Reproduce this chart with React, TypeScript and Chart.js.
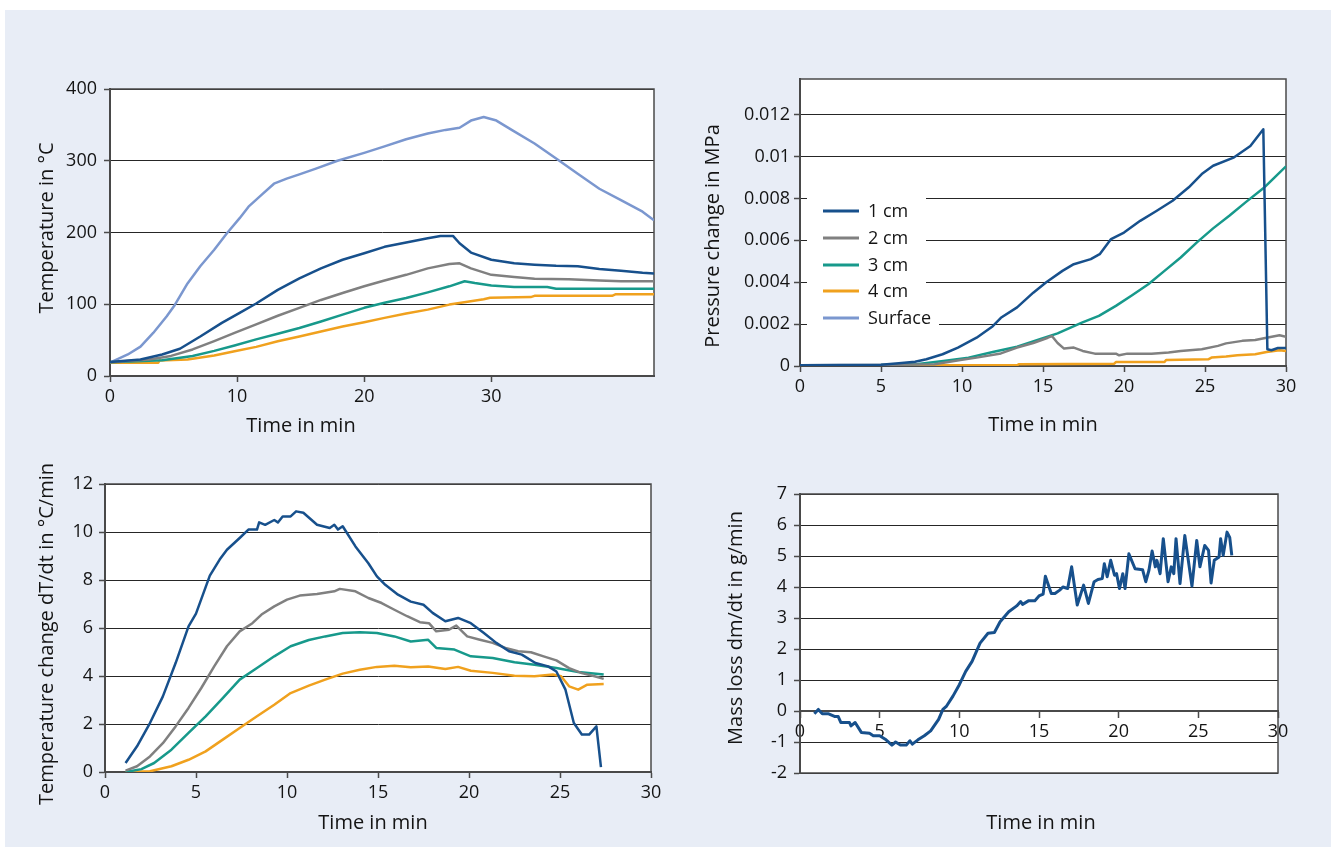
import React, { useEffect, useRef } from "react";
import { Chart, registerables } from "chart.js";

Chart.register(...registerables);

const PAGE_W = 1331;
const PAGE_H = 847;
const FONT = '"Open Sans", "Noto Sans", "DejaVu Sans", sans-serif';
const BG = "#e8edf6";
const TEXT = "#141414";
const AXIS = "#4a4a4a";
const GRID = "#262626";

const C_1CM = "#17508c";
const C_2CM = "#808080";
const C_3CM = "#17998b";
const C_4CM = "#f0a11e";
const C_SURF = "#7b97cf";

// ---------- Panel 1: Temperature in °C ----------
const T_SURF_X = [0, 1.4, 2.4, 3.4, 4.45, 5.1, 6.1, 7.1, 8.2, 9.2, 10.2, 10.9, 11.9, 12.9, 13.9, 14.9, 16.2, 17.9, 20, 21.6, 23.3, 25, 26.4, 27.5, 28.4, 29.4, 30.4, 31.7, 33.4, 35.1, 36.8, 38.5, 40.2, 41.9, 42.8];
const T_SURF_Y = [18.5, 30, 41, 60, 83, 99, 129, 153, 176, 199, 220, 236, 252, 268, 275, 281, 289, 300, 311, 320, 330, 338, 343, 346, 356, 361, 356, 342, 324, 303, 282, 261, 245, 229, 217];
const T_1CM_X = [0, 2.4, 4.1, 5.5, 7.1, 8.8, 10.2, 11.5, 13.2, 14.9, 16.6, 18.3, 20, 21.6, 23.3, 25, 26, 27, 27.5, 28.4, 30, 31.8, 33.4, 35.1, 36.8, 38.5, 40.2, 41.9, 42.8];
const T_1CM_Y = [19.4, 23, 30, 38, 55, 74, 88, 101, 120, 136, 150, 162, 171, 180, 186, 192, 195, 195, 185, 172, 162, 157, 155, 153.5, 153, 149, 146.6, 144, 143];
const T_2CM_X = [0, 3.1, 4.8, 6.5, 8.2, 9.8, 11.5, 13.2, 14.9, 16.6, 18.3, 20, 21.6, 23.3, 25, 26.7, 27.5, 28.4, 30, 31.8, 33.4, 36.1, 38.5, 40.2, 42.8];
const T_2CM_Y = [19, 23, 28, 37, 48.5, 60, 72, 84, 95, 106, 115.6, 125, 133, 141, 150, 156, 157, 150, 141, 138, 135.5, 135, 133, 132, 132];
const T_3CM_X = [0, 4.1, 6.5, 8.2, 9.8, 11.5, 13.2, 14.9, 16.6, 18.3, 20, 21.6, 23.3, 25, 26.7, 27.9, 28.7, 30, 31.8, 34.4, 35.1, 42.8];
const T_3CM_Y = [19, 22, 28, 35, 42.5, 51, 59, 67, 76, 85.5, 95, 102, 108.7, 116.5, 125, 132, 129.5, 126, 124, 124, 121.6, 121.6];
const T_4CM_X = [0, 3.8, 3.9, 6.1, 8.2, 9.8, 11.5, 13.2, 14.9, 16.6, 18.3, 20, 21.6, 23.3, 25, 26.7, 28, 29.4, 29.9, 33.1, 33.4, 39.5, 39.8, 42.8];
const T_4CM_Y = [18.5, 18.5, 21.6, 23, 28.5, 34.5, 40.6, 48.5, 55, 62, 69, 75, 81, 87, 92.5, 99.5, 103, 107, 109, 110, 111.7, 111.7, 114, 114];
const T_X_TICKS = [0, 10, 20, 30];
const T_Y_TICKS = [0, 100, 200, 300, 400];

// ---------- Panel 2: Pressure change in MPa ----------
const P_1CM_X = [0, 5, 6.1, 7.1, 7.8, 8.8, 9.75, 10.9, 11.9, 12.4, 13.4, 14.4, 15.2, 16.2, 16.9, 17.95, 18.5, 19.2, 20, 21, 22, 23, 24, 24.8, 25.5, 26.8, 27.8, 28.6, 28.85, 29.1, 29.5, 30];
const P_1CM_Y = [0.00004, 0.00006, 0.00013, 0.0002, 0.00032, 0.00056, 0.00088, 0.00135, 0.0019, 0.0023, 0.0028, 0.0035, 0.004, 0.00454, 0.00486, 0.0051, 0.00534, 0.00606, 0.00637, 0.00693, 0.0074, 0.00789, 0.00853, 0.00916, 0.00956, 0.00996, 0.0105, 0.0113, 0.0008, 0.00075, 0.00086, 0.00086];
const P_2CM_X = [0, 5, 8.3, 9.9, 10.9, 12.4, 13.4, 14.4, 15.3, 15.55, 15.9, 16.3, 16.9, 17.45, 18.2, 19.5, 19.7, 20.2, 21.7, 22.75, 23.5, 24.8, 25.8, 26.3, 27.3, 28.1, 28.8, 29.6, 30];
const P_2CM_Y = [0.00004, 0.00005, 0.00008, 0.00029, 0.0004, 0.0006, 0.00088, 0.0011, 0.00135, 0.00143, 0.0011, 0.00083, 0.00088, 0.00072, 0.00059, 0.00059, 0.00051, 0.00059, 0.00059, 0.00064, 0.00072, 0.0008, 0.00096, 0.00108, 0.0012, 0.00124, 0.00135, 0.00147, 0.00139];
const P_3CM_X = [0, 5, 7.3, 8.85, 10.4, 11.9, 13.4, 14.9, 15.9, 17.4, 18.45, 19.5, 20.5, 21.5, 22.5, 23.5, 24.5, 25.5, 26.5, 27.5, 28.6, 29.3, 30];
const P_3CM_Y = [0.00004, 0.00005, 0.0001, 0.00024, 0.0004, 0.00067, 0.00092, 0.0013, 0.00156, 0.00207, 0.00239, 0.00287, 0.00338, 0.0039, 0.00454, 0.00518, 0.0059, 0.00657, 0.00717, 0.00781, 0.00848, 0.009, 0.00953];
const P_4CM_X = [0, 13.4, 13.5, 19.4, 19.5, 22.5, 22.6, 25.2, 25.4, 26.3, 27, 28.1, 28.8, 29.6, 30];
const P_4CM_Y = [0.00003, 0.00003, 0.00008, 0.00011, 0.00019, 0.00019, 0.00029, 0.00032, 0.0004, 0.00045, 0.00051, 0.00056, 0.00067, 0.00075, 0.00072];
const P_X_TICKS = [0, 5, 10, 15, 20, 25, 30];
const P_Y_TICKS = [0, 0.002, 0.004, 0.006, 0.008, 0.01, 0.012];

// ---------- Panel 3: Temperature change dT/dt ----------
const D_1CM_X = [1.13, 1.76, 2.47, 3.18, 3.88, 4.59, 5.0, 5.76, 6.3, 6.7, 7.4, 7.88, 8.35, 8.47, 8.8, 9.3, 9.5, 9.76, 10.2, 10.5, 10.9, 11.65, 12.35, 12.6, 12.8, 13.06, 13.76, 14.47, 14.94, 15.4, 16.1, 16.8, 17.5, 18, 18.7, 19.4, 20.1, 20.8, 21.5, 22.2, 22.9, 23.65, 24.35, 24.8, 25.3, 25.76, 26.2, 26.6, 27.0, 27.25];
const D_1CM_Y = [0.375, 1.07, 2.04, 3.15, 4.54, 6.07, 6.6, 8.18, 8.85, 9.26, 9.75, 10.1, 10.1, 10.4, 10.3, 10.5, 10.4, 10.65, 10.65, 10.86, 10.8, 10.3, 10.17, 10.3, 10.1, 10.24, 9.4, 8.7, 8.15, 7.8, 7.39, 7.1, 6.97, 6.63, 6.28, 6.42, 6.2, 5.8, 5.38, 5.03, 4.89, 4.54, 4.4, 4.19, 3.43, 2.04, 1.56, 1.56, 1.9, 0.2];
const D_2CM_X = [1.13, 1.76, 2.47, 3.18, 3.88, 4.59, 5.29, 6.0, 6.7, 7.4, 8.1, 8.6, 9.3, 10, 10.7, 11.65, 12.6, 12.9, 13.76, 14.47, 15.2, 15.9, 16.6, 17.3, 17.8, 18.2, 18.9, 19.3, 19.9, 20.6, 21.3, 22.0, 22.7, 23.4, 24.1, 24.8, 25.5, 26.2, 26.9, 27.4];
const D_2CM_Y = [0.06, 0.24, 0.65, 1.2, 1.9, 2.67, 3.5, 4.4, 5.24, 5.86, 6.2, 6.56, 6.9, 7.18, 7.35, 7.42, 7.53, 7.63, 7.53, 7.25, 7.04, 6.76, 6.49, 6.24, 6.2, 5.86, 5.93, 6.1, 5.65, 5.51, 5.38, 5.17, 5.03, 4.99, 4.82, 4.65, 4.33, 4.12, 3.99, 3.88];
const D_3CM_X = [1.13, 2, 2.7, 3.65, 4.59, 5.53, 6.47, 7.4, 8.35, 9.3, 10.2, 11.2, 12.1, 13.06, 14, 14.94, 15.9, 16.8, 17.76, 18.2, 19.2, 20.1, 21.3, 22.5, 23.6, 24.8, 26, 27.4];
const D_3CM_Y = [0, 0.12, 0.375, 0.93, 1.63, 2.32, 3.08, 3.85, 4.33, 4.82, 5.24, 5.5, 5.65, 5.79, 5.82, 5.79, 5.65, 5.44, 5.51, 5.17, 5.1, 4.82, 4.75, 4.57, 4.47, 4.33, 4.17, 4.06];
const D_4CM_X = [1.13, 2.47, 3.65, 4.59, 5.53, 6.47, 7.4, 8.35, 9.3, 10.2, 11.2, 12.1, 13.06, 14, 14.94, 15.9, 16.8, 17.76, 18.7, 19.4, 20.1, 21.3, 22.5, 23.6, 24.6, 25.06, 25.5, 26, 26.5, 27.4];
const D_4CM_Y = [0, 0.03, 0.24, 0.51, 0.86, 1.35, 1.83, 2.32, 2.8, 3.29, 3.6, 3.85, 4.1, 4.26, 4.38, 4.43, 4.36, 4.4, 4.29, 4.38, 4.22, 4.13, 4.01, 3.99, 4.06, 3.99, 3.57, 3.43, 3.64, 3.67];
const D_X_TICKS = [0, 5, 10, 15, 20, 25, 30];
const D_Y_TICKS = [0, 2, 4, 6, 8, 10, 12];

// ---------- Panel 4: Mass loss dm/dt ----------
const M_X = [0.9, 1.15, 1.4, 1.8, 2.2, 2.4, 2.56, 3.1, 3.2, 3.46, 3.85, 4.36, 4.6, 5, 5.4, 5.77, 6, 6.3, 6.67, 6.9, 7.05, 7.4, 7.8, 8.2, 8.7, 8.97, 9.2, 9.6, 10, 10.4, 10.8, 11.3, 11.8, 12.2, 12.56, 13.1, 13.6, 13.85, 13.97, 14.36, 14.74, 15, 15.26, 15.4, 15.77, 16, 16.3, 16.5, 16.8, 17.05, 17.4, 17.8, 18.1, 18.46, 18.7, 18.97, 19.1, 19.28, 19.5, 19.74, 19.87, 20.05, 20.26, 20.4, 20.64, 21.03, 21.5, 21.7, 21.9, 22.1, 22.3, 22.4, 22.6, 22.8, 23.1, 23.3, 23.46, 23.6, 23.85, 24.15, 24.6, 24.9, 25.1, 25.4, 25.64, 25.8, 26, 26.3, 26.4, 26.56, 26.8, 26.97, 27.1];
const M_Y = [-0.09, 0.05, -0.09, -0.09, -0.18, -0.18, -0.37, -0.37, -0.48, -0.37, -0.69, -0.72, -0.8, -0.8, -0.93, -1.1, -1.0, -1.1, -1.1, -0.96, -1.07, -0.93, -0.8, -0.64, -0.27, 0.05, 0.16, 0.48, 0.85, 1.28, 1.6, 2.19, 2.51, 2.53, 2.88, 3.2, 3.39, 3.53, 3.44, 3.56, 3.56, 3.71, 3.77, 4.35, 3.79, 3.79, 3.9, 4.0, 3.95, 4.65, 3.42, 4.06, 3.47, 4.17, 4.24, 4.27, 4.75, 4.33, 4.86, 4.38, 4.43, 3.95, 4.43, 3.95, 5.07, 4.59, 4.56, 4.17, 4.54, 5.16, 4.65, 4.86, 4.43, 5.56, 4.17, 4.65, 4.43, 5.56, 4.11, 5.66, 4.03, 5.5, 4.65, 5.34, 5.18, 4.13, 4.86, 4.97, 5.56, 5.02, 5.77, 5.6, 5.02];
const M_X_TICKS = [0, 5, 10, 15, 20, 25, 30];
const M_Y_TICKS = [-2, -1, 0, 1, 2, 3, 4, 5, 6, 7];

type Area = { l: number; t: number; r: number; b: number };
type TitleSpec = { text: string; x: number; y: number; rotate?: boolean };
type LegendSpec = { lineX1: number; lineX2: number; textX: number; rowY: number[]; boxes: number[][] };

function pts(xs: number[], ys: number[]) {
  return xs.map((x, i) => ({ x, y: ys[i] }));
}

function line(label: string, color: string, xs: number[], ys: number[], width = 2.5) {
  return {
    label,
    data: pts(xs, ys),
    borderColor: color,
    backgroundColor: color,
    borderWidth: width,
    pointRadius: 0,
    tension: 0,
    fill: false,
    borderJoinStyle: "round" as const,
  };
}

function decorPlugin(titles: TitleSpec[], legend?: LegendSpec) {
  return {
    id: "decor",
    beforeDraw(chart: any) {
      const { ctx, chartArea: a } = chart;
      ctx.save();
      ctx.fillStyle = "#ffffff";
      ctx.fillRect(a.left, a.top, a.right - a.left, a.bottom - a.top);
      ctx.restore();
    },
    beforeDatasetsDraw(chart: any) {
      const { ctx, chartArea: a } = chart;
      ctx.save();
      ctx.strokeStyle = AXIS;
      ctx.lineWidth = 1.5;
      ctx.strokeRect(a.left, a.top, a.right - a.left, a.bottom - a.top);
      if (legend) {
        ctx.fillStyle = "#ffffff";
        legend.boxes.forEach((b) => ctx.fillRect(b[0], b[1], b[2] - b[0], b[3] - b[1]));
      }
      ctx.restore();
    },
    afterDatasetsDraw(chart: any) {
      const { ctx } = chart;
      ctx.save();
      if (legend) {
        ctx.font = `18px ${FONT}`;
        ctx.textAlign = "left";
        ctx.textBaseline = "middle";
        chart.data.datasets.forEach((ds: any, i: number) => {
          const y = legend.rowY[i];
          ctx.strokeStyle = ds.borderColor;
          ctx.lineWidth = 3;
          ctx.beginPath();
          ctx.moveTo(legend.lineX1, y);
          ctx.lineTo(legend.lineX2, y);
          ctx.stroke();
          ctx.fillStyle = TEXT;
          ctx.fillText(ds.label, legend.textX, y + 1);
        });
      }
      ctx.fillStyle = TEXT;
      ctx.font = `20px ${FONT}`;
      ctx.textAlign = "center";
      ctx.textBaseline = "middle";
      titles.forEach((t) => {
        if (t.rotate) {
          ctx.save();
          ctx.translate(t.x, t.y);
          ctx.rotate(-Math.PI / 2);
          ctx.fillText(t.text, 0, 0);
          ctx.restore();
        } else {
          ctx.fillText(t.text, t.x, t.y);
        }
      });
      ctx.restore();
    },
  };
}

type PanelSpec = {
  area: Area;
  xMax: number;
  xTicks: number[];
  yMin: number;
  yMax: number;
  yTicks: number[];
  yPad: number;
  datasets: any[];
  titles: TitleSpec[];
  legend?: LegendSpec;
  xAtZero?: boolean;
};

function fmt(v: number) {
  return String(Number(Number(v).toFixed(4)));
}

function makeConfig(p: PanelSpec): any {
  const Y_W = 60;
  const X_H = 40;
  const tickFont = { family: FONT, size: 18 };
  return {
    type: "line",
    data: { datasets: p.datasets },
    options: {
      responsive: false,
      maintainAspectRatio: false,
      animation: false,
      devicePixelRatio: 1,
      events: [],
      layout: {
        padding: {
          left: p.area.l - Y_W,
          top: p.area.t,
          right: PAGE_W - p.area.r,
          bottom: p.xAtZero ? PAGE_H - p.area.b : PAGE_H - p.area.b - X_H,
        },
      },
      plugins: { legend: { display: false }, tooltip: { enabled: false } },
      scales: {
        x: {
          type: "linear",
          position: p.xAtZero ? { y: 0 } : "bottom",
          min: 0,
          max: p.xMax,
          afterBuildTicks: (s: any) => {
            s.ticks = p.xTicks.map((v) => ({ value: v }));
          },
          afterFit: (s: any) => {
            s.height = X_H;
          },
          grid: { drawOnChartArea: false, drawTicks: true, tickLength: 6, tickColor: AXIS, tickWidth: 1.5 },
          border: { display: true, color: AXIS, width: 2 },
          ticks: { font: tickFont, color: TEXT, padding: 4, maxRotation: 0, autoSkip: false, callback: (v: number) => fmt(v) },
        },
        y: {
          type: "linear",
          position: "left",
          min: p.yMin,
          max: p.yMax,
          afterBuildTicks: (s: any) => {
            s.ticks = p.yTicks.map((v) => ({ value: v }));
          },
          afterFit: (s: any) => {
            s.width = Y_W;
          },
          grid: { drawOnChartArea: true, color: GRID, lineWidth: 1, drawTicks: true, tickLength: 6, tickColor: AXIS, tickWidth: 1.5 },
          border: { display: true, color: AXIS, width: 2 },
          ticks: { font: tickFont, color: TEXT, padding: p.yPad, autoSkip: false, callback: (v: number) => fmt(v) },
        },
      },
    },
    plugins: [decorPlugin(p.titles, p.legend)],
  };
}

const PANELS: PanelSpec[] = [
  {
    area: { l: 110, t: 89, r: 654, b: 376 },
    xMax: 42.8,
    xTicks: T_X_TICKS,
    yMin: 0,
    yMax: 400,
    yTicks: T_Y_TICKS,
    yPad: 7,
    datasets: [
      line("1 cm", C_1CM, T_1CM_X, T_1CM_Y),
      line("2 cm", C_2CM, T_2CM_X, T_2CM_Y),
      line("3 cm", C_3CM, T_3CM_X, T_3CM_Y),
      line("4 cm", C_4CM, T_4CM_X, T_4CM_Y),
      line("Surface", C_SURF, T_SURF_X, T_SURF_Y),
    ],
    titles: [
      { text: "Temperature in °C", x: 47, y: 228, rotate: true },
      { text: "Time in min", x: 301, y: 426 },
    ],
  },
  {
    area: { l: 800, t: 79, r: 1286, b: 366 },
    xMax: 30,
    xTicks: P_X_TICKS,
    yMin: 0,
    yMax: 0.0137,
    yTicks: P_Y_TICKS,
    yPad: 4,
    datasets: [
      line("1 cm", C_1CM, P_1CM_X, P_1CM_Y),
      line("2 cm", C_2CM, P_2CM_X, P_2CM_Y),
      line("3 cm", C_3CM, P_3CM_X, P_3CM_Y),
      line("4 cm", C_4CM, P_4CM_X, P_4CM_Y),
      line("Surface", C_SURF, [], []),
    ],
    titles: [
      { text: "Pressure change in MPa", x: 713, y: 236, rotate: true },
      { text: "Time in min", x: 1043, y: 425 },
    ],
    legend: {
      lineX1: 823,
      lineX2: 859,
      textX: 868,
      rowY: [211, 238, 265, 291, 318],
      boxes: [
        [807, 191, 926, 333],
        [926, 306, 939, 333],
      ],
    },
  },
  {
    area: { l: 105, t: 484, r: 651, b: 772 },
    xMax: 30,
    xTicks: D_X_TICKS,
    yMin: 0,
    yMax: 12,
    yTicks: D_Y_TICKS,
    yPad: 6,
    datasets: [
      line("1 cm", C_1CM, D_1CM_X, D_1CM_Y),
      line("2 cm", C_2CM, D_2CM_X, D_2CM_Y),
      line("3 cm", C_3CM, D_3CM_X, D_3CM_Y),
      line("4 cm", C_4CM, D_4CM_X, D_4CM_Y),
    ],
    titles: [
      { text: "Temperature change dT/dt in °C/min", x: 47, y: 634, rotate: true },
      { text: "Time in min", x: 373, y: 823 },
    ],
  },
  {
    area: { l: 800, t: 494, r: 1278, b: 773 },
    xMax: 30,
    xTicks: M_X_TICKS,
    yMin: -2,
    yMax: 7,
    yTicks: M_Y_TICKS,
    yPad: 7,
    xAtZero: true,
    datasets: [line("Mass loss", C_1CM, M_X, M_Y, 3)],
    titles: [
      { text: "Mass loss dm/dt in g/min", x: 736, y: 628, rotate: true },
      { text: "Time in min", x: 1041, y: 823 },
    ],
  },
];

function ChartLayer({ spec }: { spec: PanelSpec }) {
  const ref = useRef<HTMLCanvasElement | null>(null);
  useEffect(() => {
    if (!ref.current) return;
    const chart = new Chart(ref.current, makeConfig(spec));
    return () => chart.destroy();
  }, [spec]);
  return (
    <canvas
      ref={ref}
      width={PAGE_W}
      height={PAGE_H}
      style={{ position: "absolute", left: 0, top: 0, width: PAGE_W, height: PAGE_H, pointerEvents: "none" }}
    />
  );
}

export default function App() {
  return (
    <div style={{ position: "fixed", left: 0, top: 0, width: PAGE_W, height: PAGE_H, background: "#ffffff", overflow: "hidden" }}>
      <div style={{ position: "absolute", left: 5, top: 10, right: 0, bottom: 0, background: BG }} />
      {PANELS.map((p, i) => (
        <ChartLayer key={i} spec={p} />
      ))}
    </div>
  );
}
